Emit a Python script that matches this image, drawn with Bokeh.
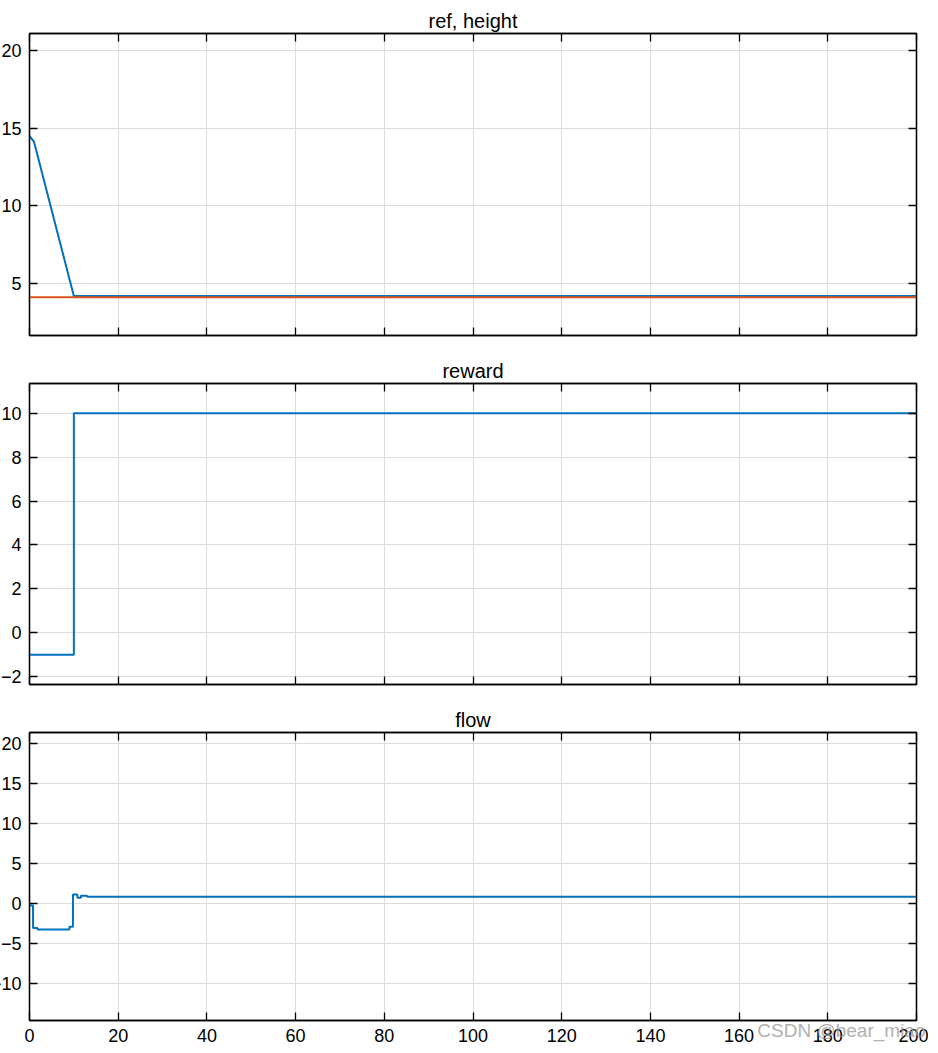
from bokeh.plotting import figure
from bokeh.layouts import column
from bokeh.models import Range1d, LinearAxis, FixedTicker, Title, CustomJSTickFormatter
from bokeh.embed import file_html
from bokeh.resources import INLINE

# ---- data ----
t_height = [0, 1.0, 10.0, 200]
height = [14.5, 14.14, 4.18, 4.18]
t_ref = [0, 200]
ref = [4.11, 4.11]

t_reward = [0, 10, 200]
reward = [-1, 10, 10]

t_flow = [0, 0.8, 1.8, 9.0, 9.8, 10.8, 11.6, 13.0, 200]
flow = [-0.3, -3.1, -3.3, -2.95, 1.08, 0.7, 0.95, 0.82, 0.82]

x_ticks = [0, 20, 40, 60, 80, 100, 120, 140, 160, 180, 200]
y_ticks_1 = [5, 10, 15, 20]
y_ticks_2 = [-2, 0, 2, 4, 6, 8, 10]
y_ticks_3 = [-10, -5, 0, 5, 10, 15, 20]
titles = ["ref, height", "reward", "flow"]
watermark = "CSDN @bear_miao"

BLUE = "#0072BD"
ORANGE = "#D95319"
FONT = "Liberation Sans"
GRID = "#dcdcdc"


def style_axis(ax, show_labels, standoff=8):
    ax.major_tick_in = 8
    ax.major_tick_out = 0
    ax.minor_tick_line_color = None
    ax.axis_line_color = "black"
    ax.axis_line_width = 1.3
    ax.major_tick_line_color = "black"
    ax.major_tick_line_width = 1.3
    ax.major_label_text_font = FONT
    ax.major_label_text_color = "black"
    if show_labels:
        ax.major_label_text_font_size = "18px"
        ax.major_label_standoff = standoff
    else:
        ax.formatter = CustomJSTickFormatter(code="return ''")
        ax.major_label_text_font_size = "1px"
        ax.major_label_standoff = 0


def make_fig(title, yr, yticks, fh, show_x, min_top, min_bottom):
    p = figure(frame_width=887, frame_height=fh,
               x_range=Range1d(0, 200), y_range=Range1d(*yr),
               output_backend="svg", toolbar_location=None,
               min_border_left=40, min_border_right=12,
               min_border_top=min_top, min_border_bottom=min_bottom)
    p.background_fill_color = "white"
    p.border_fill_color = "white"
    p.outline_line_color = "black"
    p.outline_line_width = 1.3
    p.xaxis.ticker = FixedTicker(ticks=x_ticks)
    p.yaxis.ticker = FixedTicker(ticks=yticks)
    style_axis(p.xaxis[0], show_x)
    style_axis(p.yaxis[0], True)
    top = LinearAxis(ticker=FixedTicker(ticks=x_ticks))
    right = LinearAxis(ticker=FixedTicker(ticks=yticks))
    style_axis(top, False)
    style_axis(right, False)
    p.add_layout(top, "above")
    p.add_layout(right, "right")
    p.xgrid.grid_line_color = GRID
    p.ygrid.grid_line_color = GRID
    p.title.text = title
    p.title.align = "center"
    p.title.text_font = FONT
    p.title.text_font_size = "20px"
    p.title.text_font_style = "normal"
    p.title.text_color = "black"
    p.title.standoff = 4
    return p


p1 = make_fig(titles[0], (1.64, 21.1), y_ticks_1, 302, False, 25, 20)
p1.line(t_height, height, color=BLUE, line_width=2)
p1.line(t_ref, ref, color=ORANGE, line_width=2)

p2 = make_fig(titles[1], (-2.36, 11.36), y_ticks_2, 301, False, 5, 20)
p2.step(t_reward, reward, mode="after", color=BLUE, line_width=2)

p3 = make_fig(titles[2], (-14.68, 21.37), y_ticks_3, 288, True, 5, 5)
p3.step(t_flow, flow, mode="after", color=BLUE, line_width=2)
p3.add_layout(Title(text=watermark, align="right", offset=-9, standoff=-50,
                    vertical_align="top",
                    text_font=FONT, text_font_size="19px",
                    text_font_style="normal",
                    text_color="#9a9a9a", text_alpha=0.8), "below")

layout = column(p1, p2, p3, margin=(5, 0, 0, -13))

open("out.html", "w").write(file_html(layout, INLINE))
